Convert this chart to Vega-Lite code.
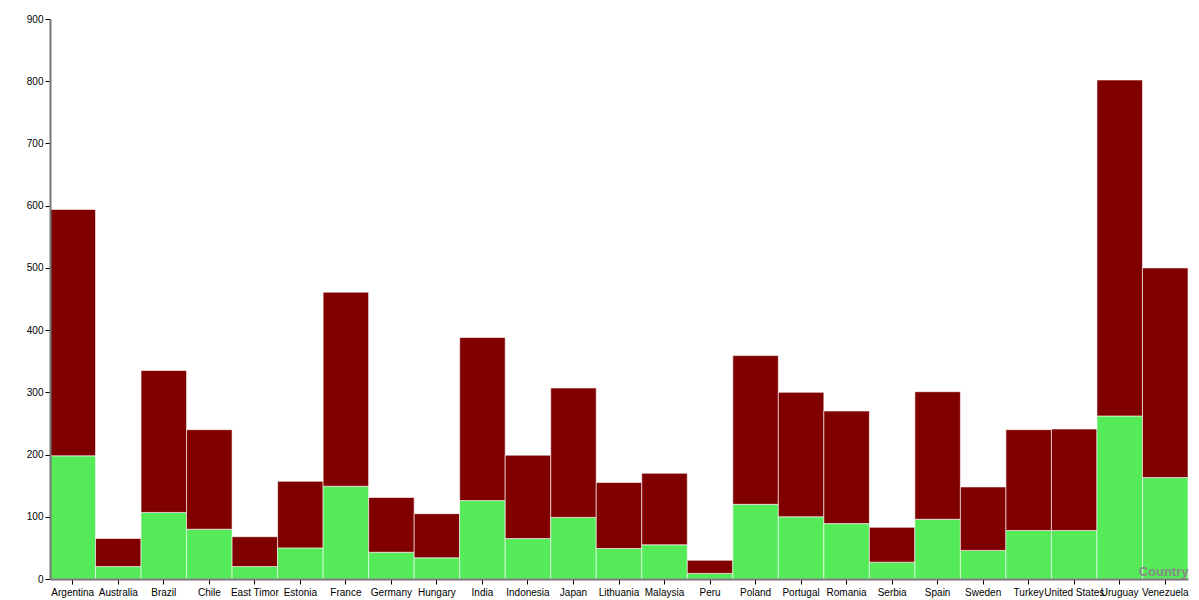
{
  "$schema": "https://vega.github.io/schema/vega-lite/v6.json",
  "width": 1138,
  "height": 560,
  "autosize": {"type": "none"},
  "padding": {"left": 50, "top": 19, "right": 11, "bottom": 21},
  "background": "white",
  "data": {
    "values": [
      {"country": "Argentina", "part": "low", "value": 198},
      {"country": "Argentina", "part": "high", "value": 396},
      {"country": "Australia", "part": "low", "value": 20},
      {"country": "Australia", "part": "high", "value": 45},
      {"country": "Brazil", "part": "low", "value": 107},
      {"country": "Brazil", "part": "high", "value": 228},
      {"country": "Chile", "part": "low", "value": 80},
      {"country": "Chile", "part": "high", "value": 160},
      {"country": "East Timor", "part": "low", "value": 20},
      {"country": "East Timor", "part": "high", "value": 48},
      {"country": "Estonia", "part": "low", "value": 50},
      {"country": "Estonia", "part": "high", "value": 107},
      {"country": "France", "part": "low", "value": 149},
      {"country": "France", "part": "high", "value": 312},
      {"country": "Germany", "part": "low", "value": 43},
      {"country": "Germany", "part": "high", "value": 88},
      {"country": "Hungary", "part": "low", "value": 34},
      {"country": "Hungary", "part": "high", "value": 71},
      {"country": "India", "part": "low", "value": 126},
      {"country": "India", "part": "high", "value": 262},
      {"country": "Indonesia", "part": "low", "value": 65},
      {"country": "Indonesia", "part": "high", "value": 134},
      {"country": "Japan", "part": "low", "value": 99},
      {"country": "Japan", "part": "high", "value": 208},
      {"country": "Lithuania", "part": "low", "value": 49},
      {"country": "Lithuania", "part": "high", "value": 106},
      {"country": "Malaysia", "part": "low", "value": 55},
      {"country": "Malaysia", "part": "high", "value": 115},
      {"country": "Peru", "part": "low", "value": 9},
      {"country": "Peru", "part": "high", "value": 21},
      {"country": "Poland", "part": "low", "value": 120},
      {"country": "Poland", "part": "high", "value": 239},
      {"country": "Portugal", "part": "low", "value": 100},
      {"country": "Portugal", "part": "high", "value": 200},
      {"country": "Romania", "part": "low", "value": 89},
      {"country": "Romania", "part": "high", "value": 181},
      {"country": "Serbia", "part": "low", "value": 27},
      {"country": "Serbia", "part": "high", "value": 56},
      {"country": "Spain", "part": "low", "value": 96},
      {"country": "Spain", "part": "high", "value": 205},
      {"country": "Sweden", "part": "low", "value": 46},
      {"country": "Sweden", "part": "high", "value": 102},
      {"country": "Turkey", "part": "low", "value": 78},
      {"country": "Turkey", "part": "high", "value": 162},
      {"country": "United States", "part": "low", "value": 78},
      {"country": "United States", "part": "high", "value": 163},
      {"country": "Uruguay", "part": "low", "value": 262},
      {"country": "Uruguay", "part": "high", "value": 540},
      {"country": "Venezuela", "part": "low", "value": 163},
      {"country": "Venezuela", "part": "high", "value": 337}
    ]
  },
  "mark": {"type": "bar", "stroke": "white", "strokeWidth": 1, "strokeOpacity": 0.6},
  "encoding": {
    "x": {
      "field": "country",
      "type": "nominal",
      "sort": null,
      "scale": {"paddingInner": 0, "paddingOuter": 0},
      "axis": {
        "zindex": 1,
        "title": "Country",
        "labelAngle": 0,
        "labelFontSize": 10,
        "labelFont": "Liberation Sans",
        "labelColor": "#000",
        "labelPadding": 3,
        "domainColor": "#777",
        "domainWidth": 2,
        "tickColor": "#000",
        "tickSize": 5,
        "titleFont": "Liberation Sans",
        "titleFontSize": 13,
        "titleFontWeight": "bold",
        "titleColor": "#888",
        "titleAnchor": "end",
        "titleAlign": "right",
        "titleBaseline": "alphabetic",
        "titleX": 1138,
        "titleY": -4
      }
    },
    "y": {
      "field": "value",
      "type": "quantitative",
      "stack": "zero",
      "scale": {"domain": [0, 900], "nice": false},
      "axis": {
        "zindex": 1,
        "title": null,
        "grid": false,
        "values": [0, 100, 200, 300, 400, 500, 600, 700, 800, 900],
        "labelFontSize": 10,
        "labelFont": "Liberation Sans",
        "labelColor": "#000",
        "labelPadding": 2,
        "domainColor": "#777",
        "domainWidth": 2,
        "tickColor": "#000",
        "tickSize": 5
      }
    },
    "color": {
      "field": "part",
      "type": "nominal",
      "scale": {"domain": ["low", "high"], "range": ["#55ea58", "#800000"]},
      "legend": null
    },
    "order": {"field": "part", "sort": "descending"}
  },
  "config": {"view": {"stroke": null}}
}
